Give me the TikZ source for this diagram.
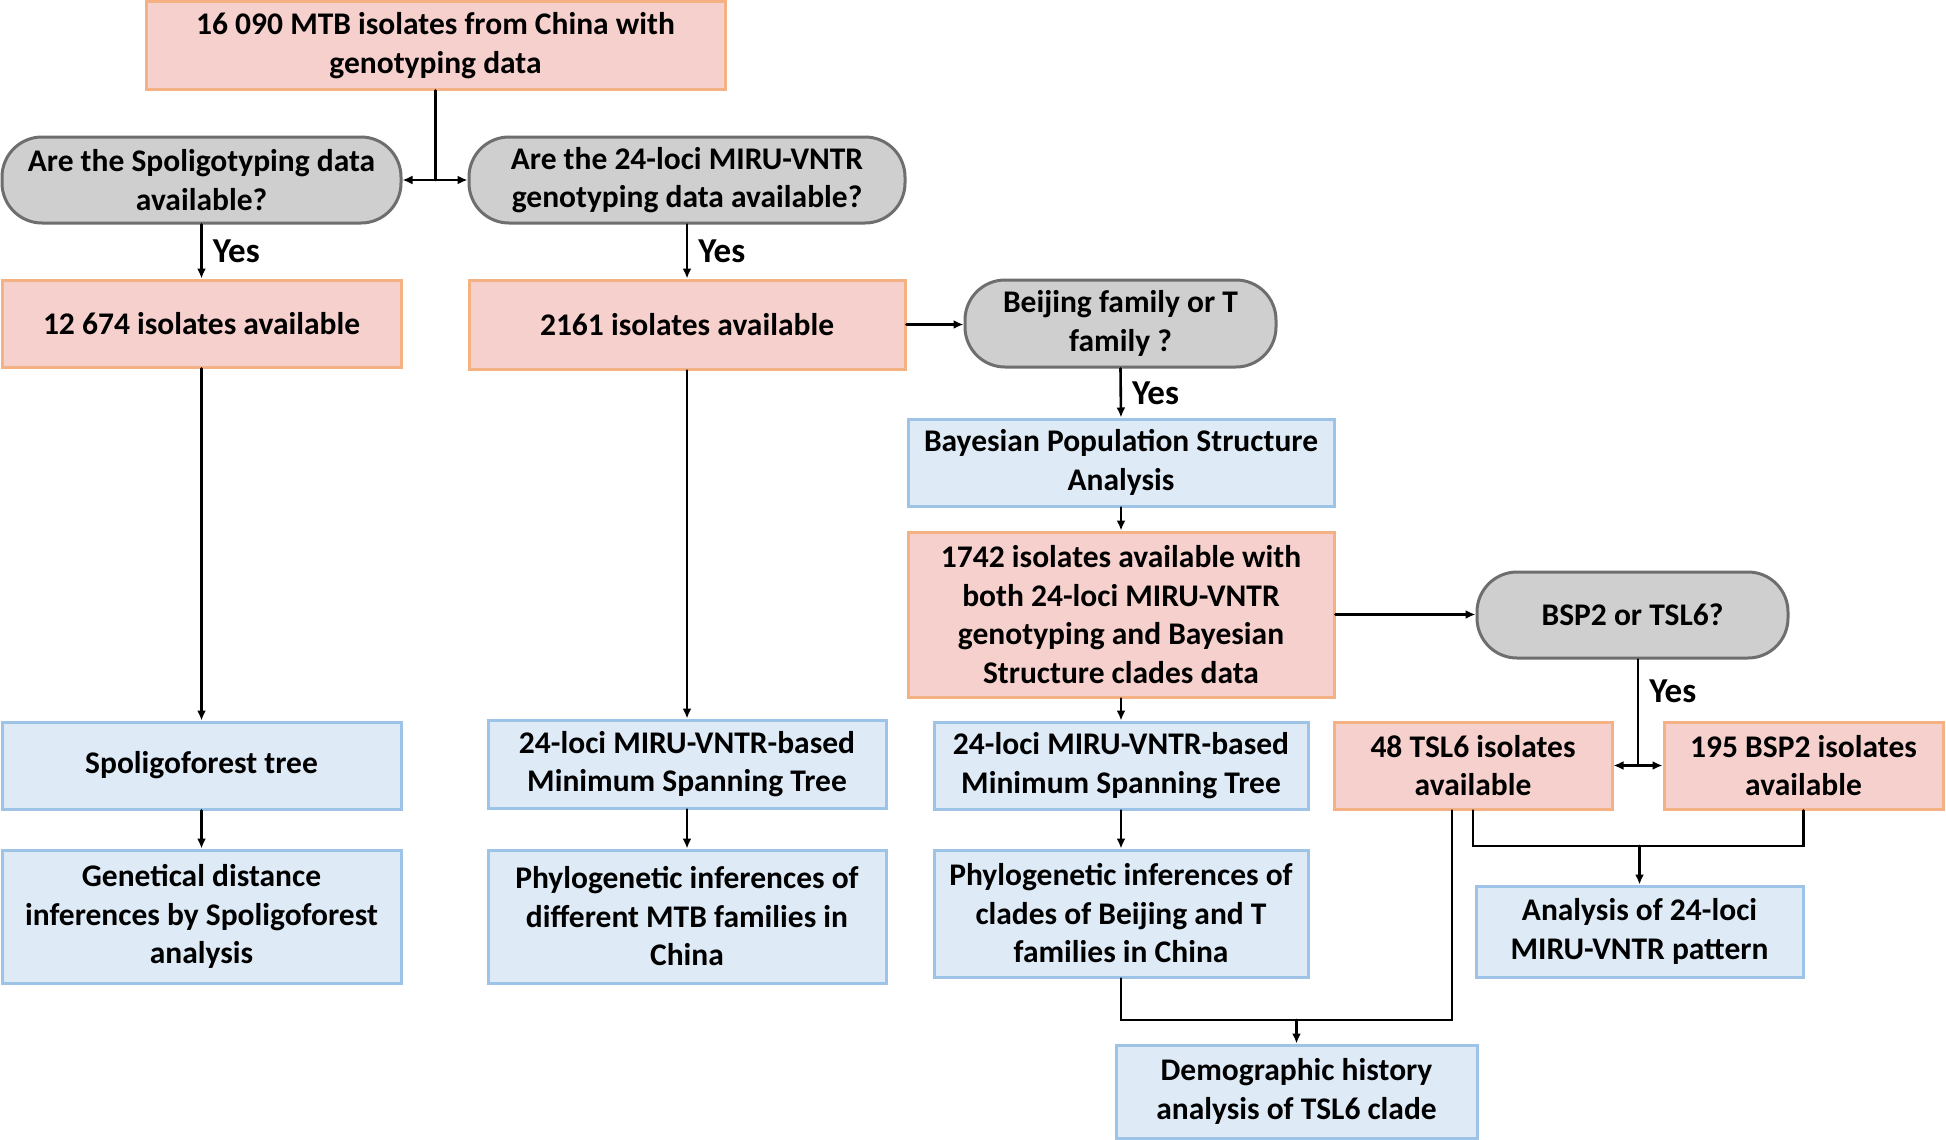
\documentclass[tikz,border=0pt]{standalone}
\usepackage{fontspec}
\setmainfont{Carlito}
\usetikzlibrary{arrows.meta}
\definecolor{pinkf}{HTML}{F6D0CC}
\definecolor{pinkd}{HTML}{F4B183}
\definecolor{bluef}{HTML}{DEEBF7}
\definecolor{blued}{HTML}{9DC3E6}
\definecolor{grayf}{HTML}{D0CFCF}
\definecolor{grayd}{HTML}{6E6E6E}
\tikzset{
  box/.style={draw, line width=3pt, inner sep=0pt, align=center,
    font=\fontsize{31.5}{38.5}\selectfont\bfseries},
  pinkbox/.style={box, fill=pinkf, draw=pinkd},
  bluebox/.style={box, fill=bluef, draw=blued},
  qbox/.style={box, fill=grayf, draw=grayd, rounded corners=40pt},
  lnk/.style={line width=2.6pt, line cap=round},
  conn/.style={lnk, -{Latex[length=10pt,width=9pt]}},
  dconn/.style={lnk, {Latex[length=10pt,width=9pt]}-{Latex[length=10pt,width=9pt]}},
  yes/.style={font=\fontsize{35}{40}\selectfont\bfseries, inner sep=0pt, xshift=10pt, anchor=west}
}
\begin{document}
\begin{tikzpicture}[x=1pt,y=-1pt]
\useasboundingbox[fill=white] (0,0) rectangle (1946,1140);

\node[pinkbox, minimum width=579pt, minimum height=87pt] (top) at (435.5,45.5) {16 090 MTB isolates from China with\\genotyping data};
\node[qbox, minimum width=399pt, minimum height=86pt] (q1) at (201.5,180) {Are the Spoligotyping data\\available?};
\node[qbox, minimum width=436pt, minimum height=86pt] (q2) at (687,180) {Are the 24-loci MIRU-VNTR\\genotyping data available?};
\node[pinkbox, minimum width=399pt, minimum height=87pt] (a1) at (201.5,323.5) {12 674 isolates available};
\node[pinkbox, minimum width=436pt, minimum height=89pt] (a2) at (687,324.5) {2161 isolates available};
\node[qbox, minimum width=311pt, minimum height=87pt] (bj) at (1120.5,323.5) {Beijing family or T\\family ?};
\node[bluebox, minimum width=426pt, minimum height=87pt] (bay) at (1121,462.5) {Bayesian Population Structure\\Analysis};
\node[pinkbox, minimum width=426pt, minimum height=165pt] (n1742) at (1121,614.5) {1742 isolates available with\\both 24-loci MIRU-VNTR\\genotyping and Bayesian\\Structure clades data};
\node[qbox, minimum width=311pt, minimum height=86pt] (bsp) at (1632.5,615) {BSP2 or TSL6?};
\node[pinkbox, minimum width=278pt, minimum height=87pt] (tsl) at (1473,765.5) {48 TSL6 isolates\\available};
\node[pinkbox, minimum width=279pt, minimum height=87pt] (bspb) at (1803.5,765.5) {195 BSP2 isolates\\available};
\node[bluebox, minimum width=399pt, minimum height=87pt] (spf) at (201.5,765.5) {Spoligoforest tree};
\node[bluebox, minimum width=398pt, minimum height=88pt] (mst2) at (687,764) {24-loci MIRU-VNTR-based\\Minimum Spanning Tree};
\node[bluebox, minimum width=374pt, minimum height=87pt] (mst3) at (1121,765.5) {24-loci MIRU-VNTR-based\\Minimum Spanning Tree};
\node[bluebox, minimum width=399pt, minimum height=133pt] (gen) at (201.5,916.5) {Genetical distance\\inferences by Spoligoforest\\analysis};
\node[bluebox, minimum width=398pt, minimum height=133pt] (phy2) at (687,916.5) {Phylogenetic inferences of\\different MTB families in\\China};
\node[bluebox, minimum width=374pt, minimum height=127pt] (phy3) at (1121,913.5) {Phylogenetic inferences of\\clades of Beijing and T\\families in China};
\node[bluebox, minimum width=327pt, minimum height=91pt] (ana) at (1639.5,931.5) {Analysis of 24-loci\\MIRU-VNTR pattern};
\node[bluebox, minimum width=361pt, minimum height=93pt] (dem) at (1296.5,1091.5) {Demographic history\\analysis of TSL6 clade};

% top split
\coordinate (j1) at (top.south |- q1.east);
\draw[lnk] (top.south) -- (j1);
\draw[dconn] (q1.east) -- (q2.west);

% column 1
\draw[conn] (q1.south) -- (a1.north) node[midway, yes] {Yes};
\draw[conn] (a1.south) -- (spf.north);
\draw[conn] (spf.south) -- (gen.north);

% column 2
\draw[conn] (q2.south) -- (a2.north) node[midway, yes] {Yes};
\draw[conn] (a2.south) -- (mst2.north);
\draw[conn] (mst2.south) -- (phy2.north);
\draw[conn] (a2.east) -- (a2.east -| bj.west);

% column 3
\draw[conn] (bj.south) -- (bay.north) node[midway, yes] {Yes};
\draw[conn] (bay.south) -- (n1742.north);
\draw[conn] (n1742.south) -- (mst3.north);
\draw[conn] (mst3.south) -- (phy3.north);
\draw[conn] (n1742.east) -- (n1742.east -| bsp.west);

% BSP2 / TSL6 split
\coordinate (jb) at (1638,765.5);
\draw[lnk] (jb |- bsp.south) -- (jb) node[pos=0.3, yes] {Yes};
\draw[dconn] (tsl.east) -- (bspb.west);

% to analysis
\coordinate (d2) at (1639.5,846);
\draw[lnk] (tsl.south) |- (d2) -| (bspb.south);
\draw[conn] (d2) -- (ana.north);

% to demographic
\coordinate (d1) at (1452,1020);
\draw[lnk] (phy3.south) |- (d1) -- (d1 |- tsl.south);
\draw[conn] (dem.north |- d1) -- (dem.north);
\end{tikzpicture}
\end{document}
